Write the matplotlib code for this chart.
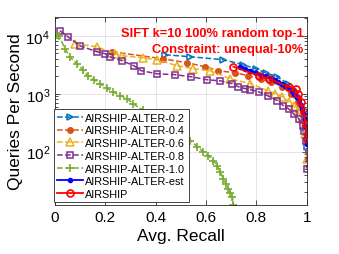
import numpy as np
import matplotlib.pyplot as plt
from matplotlib.ticker import LogLocator, NullFormatter, FixedLocator

plt.rcParams['font.family'] = ['Liberation Sans', 'DejaVu Sans']
plt.rcParams['mathtext.fontset'] = 'custom'
plt.rcParams['mathtext.rm'] = 'Liberation Sans'

# recall / QPS
r02 = [0.438, 0.538, 0.669, 0.749, 0.797, 0.837, 0.884, 0.924, 0.948, 0.968, 0.976, 0.988, 0.996, 1.0]
q02 = [4700, 4350, 3860, 3160, 2700, 2300, 1960, 1490, 1130, 890, 600, 370, 250, 122]

r04 = [0.227, 0.43, 0.526, 0.598, 0.649, 0.717, 0.769, 0.817, 0.857, 0.904, 0.936, 0.964, 0.976, 0.988, 0.996]
q04 = [5300, 4000, 3420, 2920, 2490, 2300, 2040, 1810, 1610, 1320, 1000, 730, 600, 370, 205]

r06 = [0.08, 0.167, 0.239, 0.267, 0.35, 0.406, 0.486, 0.55, 0.617, 0.697, 0.777, 0.845,
       0.876, 0.904, 0.928, 0.948, 0.964, 0.98, 0.992, 1.0]
q06 = [7270, 6460, 4890, 4520, 4170, 3860, 3040, 2700, 2490, 1810, 1490, 1130,
       1000, 890, 730, 620, 510, 370, 205, 76]

r08 = [0.02, 0.052, 0.10, 0.167, 0.2, 0.22, 0.267, 0.315, 0.343, 0.406, 0.478, 0.542, 0.606,
       0.657, 0.705, 0.729, 0.757, 0.777, 0.809, 0.845, 0.884, 0.908, 0.928, 0.948, 0.968,
       0.984, 0.988, 0.996, 1.0]
q08 = [12200, 9600, 6700, 5300, 4900, 4330, 3700, 3030, 2500, 2210, 2130, 1960, 1740,
       1670, 1490, 1320, 1220, 1170, 1080, 925, 760, 620, 550, 450, 372,
       280, 230, 155, 51]

r10 = [0.008, 0.016, 0.04, 0.06, 0.088, 0.11, 0.131, 0.155, 0.179, 0.205, 0.231, 0.26, 0.287,
       0.311, 0.35, 0.39, 0.43, 0.47, 0.51, 0.538, 0.566, 0.59, 0.61, 0.63, 0.645, 0.657,
       0.669, 0.68, 0.689, 0.697, 0.705, 0.709]
q10 = [10200, 10000, 5970, 4300, 3290, 2600, 2040, 1750, 1490, 1250, 1080, 930, 820,
       670, 520, 400, 300, 230, 180, 155, 122, 100, 85, 70, 56, 45,
       34, 28, 23, 19.5, 16.6, 12.2]

r_est = [0.737, 0.757, 0.777, 0.797, 0.817, 0.837, 0.857, 0.873, 0.888, 0.902, 0.916, 0.928,
         0.94, 0.95, 0.96, 0.968, 0.976, 0.982, 0.988, 0.992, 0.996, 1.0]
q_est = [2930, 2700, 2500, 2300, 2140, 2000, 1890, 1750, 1610, 1500, 1380, 1250,
         1130, 1000, 890, 770, 650, 550, 455, 360, 270, 138]

r_air = [0.709, 0.809, 0.849, 0.928, 0.956, 0.964, 0.976, 0.988, 0.996, 1.0]
q_air = [2930, 2040, 1810, 1320, 1220, 1000, 730, 490, 300, 165]

fig = plt.figure(figsize=(3.39, 2.55), dpi=100)
ax = fig.add_axes([0.162, 0.192, 0.744, 0.737])

ax.plot(r02, q02, '--', color='#0072BD', marker='>', ms=5, mfc='none', mew=1.1, lw=1.1, label='AIRSHIP-ALTER-0.2')
ax.plot(r04, q04, '--', color='#D95319', marker='o', ms=4, lw=1.1, label='AIRSHIP-ALTER-0.4')
ax.plot(r06, q06, '--', color='#EDB120', marker='^', ms=5.5, mfc='none', mew=1.1, lw=1.1, label='AIRSHIP-ALTER-0.6')
ax.plot(r08, q08, '--', color='#7E2F8E', marker='s', ms=4.5, mfc='none', mew=1.1, lw=1.1, label='AIRSHIP-ALTER-0.8')
ax.plot(r10, q10, '--', color='#77AC30', marker='+', ms=5.5, mew=1.2, lw=1.1, label='AIRSHIP-ALTER-1.0')
ax.plot(r_est, q_est, '-', color='b', marker='.', ms=6, lw=1.3, label='AIRSHIP-ALTER-est')
ax.plot(r_air, q_air, '-', color='r', marker='o', ms=5, mfc='none', mew=1.2, lw=1.3, label='AIRSHIP')

ax.set_yscale('log')
ax.set_xlim(0, 1.002)
ax.set_ylim(12, 21000)
ax.xaxis.set_major_locator(FixedLocator([0, 0.2, 0.4, 0.6, 0.8, 1.0]))
ax.set_xticklabels(['0', '0.2', '0.4', '0.6', '0.8', '1'])
ax.yaxis.set_major_locator(LogLocator(base=10, numticks=10))
ax.yaxis.set_minor_locator(LogLocator(base=10, subs=np.arange(2, 10), numticks=10))
ax.yaxis.set_minor_formatter(NullFormatter())
ax.tick_params(which='both', direction='in', top=True, right=True, labelsize=11, width=0.6, color='#333333')
ax.tick_params(which='major', length=3.5)
ax.tick_params(which='minor', length=2)
ax.grid(True, which='major', color='#e0e0e0', lw=0.6)
ax.set_axisbelow(True)
for s in ax.spines.values():
    s.set_color('#262626')
    s.set_linewidth(0.6)

ax.set_xlabel('Avg. Recall', fontsize=12.5, labelpad=3)
ax.set_ylabel('Queries Per Second', fontsize=12.5, labelpad=2)

ax.text(0.985, 0.918, 'SIFT k=10 100% random top-1', transform=ax.transAxes, ha='right', va='center',
        color='red', fontsize=9.3, fontweight='bold')
ax.text(0.985, 0.828, 'Constraint: unequal-10%', transform=ax.transAxes, ha='right', va='center',
        color='red', fontsize=9.3, fontweight='bold')

leg = ax.legend(loc='lower left', bbox_to_anchor=(-0.004, 0.015), fontsize=7.8, frameon=True, fancybox=False,
                edgecolor='#262626', framealpha=1, borderpad=0.3, labelspacing=0.25,
                handlelength=2.4, handletextpad=0.2, borderaxespad=0)
leg.get_frame().set_linewidth(0.6)

fig.savefig('out.png', dpi=100)
